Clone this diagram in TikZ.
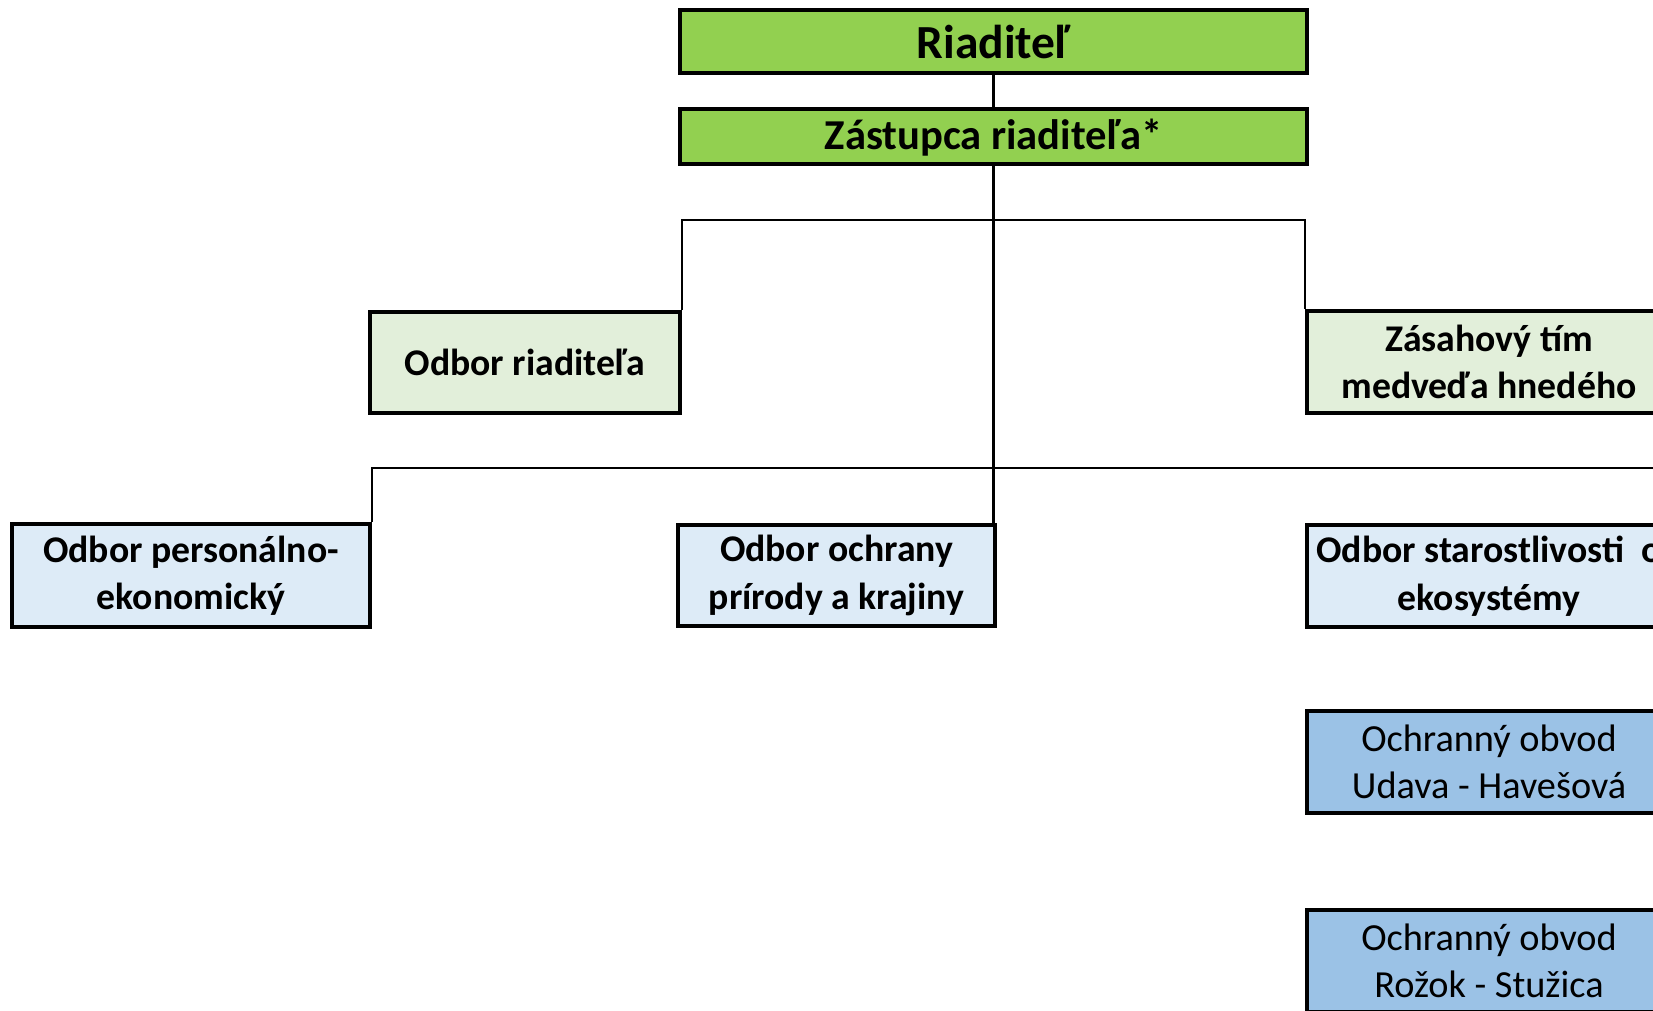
\documentclass[tikz,border=0pt]{standalone}
\usepackage{fontspec}
\setmainfont{Carlito}
\definecolor{topgreen}{HTML}{92D050}
\definecolor{palegreen}{HTML}{E2EFDA}
\definecolor{paleblue}{HTML}{DDEBF7}
\definecolor{midblue}{HTML}{9BC2E6}
\tikzset{
  orgbox/.style={draw=black, line width=4.2pt, rectangle, inner sep=0pt, align=center},
  boldtxt/.style={font=\fontsize{37.7}{47.5}\selectfont\bfseries},
  regtxt/.style={font=\fontsize{38.3}{47.5}\selectfont},
  conn/.style={draw=black, line width=2.4pt}
}
\begin{document}
\begin{tikzpicture}[x=1pt,y=-1pt]
\useasboundingbox (0,0) rectangle (1653,1010);
\clip (0,0) rectangle (1653,1010);
\fill[white] (0,0) rectangle (1653,1010);
% nodes
\node[orgbox, fill=topgreen, minimum width=627pt, minimum height=63pt, font=\fontsize{47.5}{54}\selectfont\bfseries] (riad) at (993.5,41.5) {Riaditeľ};
\node[orgbox, fill=topgreen, minimum width=627pt, minimum height=55pt, text depth=4pt, font=\fontsize{42.6}{50}\selectfont\bfseries] (zast) at (993.5,136.5) {Zástupca riaditeľa*};
\node[orgbox, boldtxt, fill=palegreen, minimum width=310pt, minimum height=101pt] (odr) at (525,362.5) {Odbor riaditeľa};
\node[orgbox, boldtxt, fill=palegreen, minimum width=364pt, minimum height=102pt] (zas) at (1489,362) {Zásahový tím\\medveďa hnedého};
\node[orgbox, boldtxt, fill=paleblue, minimum width=358pt, minimum height=103pt] (odp) at (191,575.5) {Odbor personálno-\\ekonomický};
\node[orgbox, boldtxt, fill=paleblue, minimum width=317pt, minimum height=101pt] (odo) at (836.5,575.5) {Odbor ochrany\\prírody a krajiny};
\node[orgbox, boldtxt, fill=paleblue, minimum width=364pt, minimum height=102pt] (ods) at (1489,576) {Odbor starostlivosti~~o\\ekosystémy};
\node[orgbox, regtxt, fill=midblue, minimum width=364pt, minimum height=102pt] (ud) at (1489,762) {Ochranný obvod\\Udava - Havešová};
\node[orgbox, regtxt, fill=midblue, minimum width=364pt, minimum height=102pt] (roz) at (1489,961) {Ochranný obvod\\Rožok - Stužica};
% connector coordinates
\coordinate (b1) at (994,220);
\coordinate (b2) at (994,468);
\coordinate (b2e) at (1700,468);
% connectors
\draw[conn] (riad.south) -- (zast.north);
\draw[conn] (zast.south) -- (zast.south |- odo.north);
\draw[conn] (odr.north east) |- (b1) -| (zas.north west);
\draw[conn] (odp.north east) |- (b2) -- (b2e);
\end{tikzpicture}
\end{document}
